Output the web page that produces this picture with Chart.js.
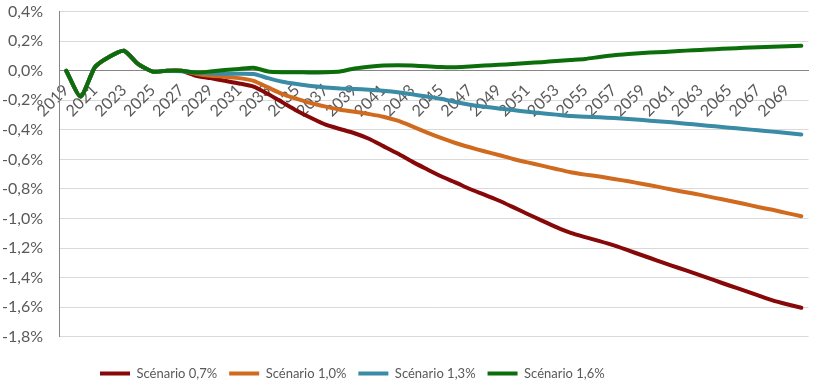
<!DOCTYPE html>
<html lang="fr">
<head>
<meta charset="utf-8">
<title>Scénarios</title>
<script src="https://cdn.jsdelivr.net/npm/chart.js@4.4.0/dist/chart.umd.min.js"></script>
<style>
  html, body { margin: 0; padding: 0; background: #ffffff; }
  #wrap { width: 817px; height: 391px; position: relative; }
</style>
</head>
<body>
<div id="wrap"><canvas id="canvasScenarios"></canvas></div>
<script>
// Années (axe des catégories)
const annees = [
    '2019', '2020', '2021', '2022', '2023', '2024', '2025', '2026', '2027', '2028',
    '2029', '2030', '2031', '2032', '2033', '2034', '2035', '2036', '2037', '2038',
    '2039', '2040', '2041', '2042', '2043', '2044', '2045', '2046', '2047', '2048',
    '2049', '2050', '2051', '2052', '2053', '2054', '2055', '2056', '2057', '2058',
    '2059', '2060', '2061', '2062', '2063', '2064', '2065', '2066', '2067', '2068',
    '2069', '2070'
];

// Séries en %
const scenario07 = [
    0.00, -0.175, 0.025, 0.095, 0.135, 0.045, -0.006, 0.00, 0.00, -0.034,
    -0.050, -0.068, -0.086, -0.108, -0.158, -0.214, -0.270, -0.320, -0.365, -0.394,
    -0.423, -0.460, -0.510, -0.560, -0.615, -0.665, -0.714, -0.755, -0.800, -0.838,
    -0.878, -0.923, -0.969, -1.014, -1.058, -1.097, -1.126, -1.153, -1.182, -1.216,
    -1.250, -1.284, -1.318, -1.351, -1.385, -1.419, -1.453, -1.486, -1.520, -1.554,
    -1.580, -1.603
];
const scenario10 = [
    0.00, -0.175, 0.025, 0.095, 0.135, 0.045, -0.006, 0.00, 0.00, -0.020,
    -0.034, -0.040, -0.050, -0.068, -0.113, -0.158, -0.190, -0.220, -0.243, -0.264,
    -0.277, -0.293, -0.311, -0.338, -0.376, -0.417, -0.455, -0.489, -0.518, -0.545,
    -0.570, -0.597, -0.620, -0.642, -0.665, -0.687, -0.703, -0.716, -0.732, -0.748,
    -0.766, -0.784, -0.804, -0.822, -0.840, -0.860, -0.880, -0.900, -0.922, -0.941,
    -0.963, -0.984
];
const scenario13 = [
    0.00, -0.175, 0.025, 0.095, 0.135, 0.045, -0.006, 0.00, -0.004, -0.012,
    -0.017, -0.020, -0.020, -0.022, -0.050, -0.074, -0.090, -0.104, -0.113, -0.120,
    -0.124, -0.128, -0.135, -0.145, -0.160, -0.175, -0.190, -0.212, -0.230, -0.243,
    -0.255, -0.266, -0.278, -0.288, -0.297, -0.306, -0.311, -0.315, -0.320, -0.327,
    -0.334, -0.342, -0.349, -0.358, -0.367, -0.376, -0.385, -0.394, -0.403, -0.412,
    -0.421, -0.432
];
const scenario16 = [
    0.00, -0.175, 0.025, 0.095, 0.135, 0.045, -0.006, 0.00, 0.00, -0.012,
    -0.005, 0.005, 0.012, 0.020, -0.005, -0.010, -0.010, -0.012, -0.010, -0.005,
    0.015, 0.027, 0.035, 0.037, 0.035, 0.030, 0.025, 0.024, 0.028, 0.035,
    0.040, 0.045, 0.052, 0.058, 0.066, 0.073, 0.080, 0.093, 0.105, 0.113,
    0.120, 0.125, 0.130, 0.136, 0.141, 0.146, 0.150, 0.155, 0.159, 0.163,
    0.166, 0.169
];

const nomsSeries = ['Scénario 0,7%', 'Scénario 1,0%', 'Scénario 1,3%', 'Scénario 1,6%'];
const couleurs = ['#870808', '#D06A1E', '#3A8BA5', '#0B6E0B'];

// Bornes de l'axe vertical (en %)
const yMin = -1.8;
const yMax = 0.4;
const yPas = 0.2;

// Excel place la légende un peu à gauche du centre
const decalageLegende = {
    id: 'decalageLegende',
    afterLayout(chart) {
        const lg = chart.legend;
        lg.left = 100 - lg.options.labels.padding;
    }
};

function serie(label, data, couleur, ordre) {
    return {
        label: label,
        data: data,
        borderColor: couleur,
        backgroundColor: couleur,
        borderWidth: 4,
        borderCapStyle: 'round',
        borderJoinStyle: 'round',
        pointRadius: 0,
        pointStyle: 'line',
        tension: 0.2,
        order: ordre // la série 1,6% est dessinée au-dessus
    };
}

Chart.defaults.font.family = 'Lato, "Open Sans", sans-serif';
Chart.defaults.color = '#595959';

new Chart(document.getElementById('canvasScenarios'), {
    type: 'line',
    data: {
        labels: annees,
        datasets: [
            serie(nomsSeries[0], scenario07, couleurs[0], 4),
            serie(nomsSeries[1], scenario10, couleurs[1], 3),
            serie(nomsSeries[2], scenario13, couleurs[2], 2),
            serie(nomsSeries[3], scenario16, couleurs[3], 1)
        ]
    },
    options: {
        responsive: true,
        maintainAspectRatio: false,
        animation: false,
        layout: { padding: { top: 4, right: 7, bottom: 1, left: 0 } },
        plugins: {
            tooltip: { enabled: false },
            legend: {
                position: 'bottom',
                align: 'start',
                // titre vide : sert seulement d'espace au-dessus de la légende
                title: { display: true, text: '', font: { size: 1 }, padding: { top: 17, bottom: 0 } },
                labels: {
                    usePointStyle: true,
                    pointStyleWidth: 30,
                    padding: 12,
                    font: { size: 13 },
                    sort: (a, b) => a.datasetIndex - b.datasetIndex
                }
            }
        },
        scales: {
            x: {
                type: 'category',
                offset: true,
                position: { y: 0 },
                grid: { display: false },
                border: { display: true, color: '#868686', width: 1 },
                ticks: {
                    autoSkip: false,
                    minRotation: 45,
                    maxRotation: 45,
                    padding: 2,
                    font: { size: 16 },
                    callback: function(value, index) {
                        return index % 2 === 0 ? this.getLabelForValue(value) : '';
                    }
                }
            },
            y: {
                min: yMin,
                max: yMax,
                afterFit: scale => { scale.width = 59; },
                grid: { color: '#d9d9d9', drawTicks: true, tickLength: 14, tickColor: 'rgba(0,0,0,0)' },
                border: { color: '#868686', width: 1 },
                ticks: {
                    stepSize: yPas,
                    padding: 2,
                    font: { size: 16 },
                    callback: v => (Math.round(v * 10) / 10).toFixed(1).replace('.', ',') + '%'
                }
            }
        }
    },
    plugins: [decalageLegende]
});
</script>
</body>
</html>
